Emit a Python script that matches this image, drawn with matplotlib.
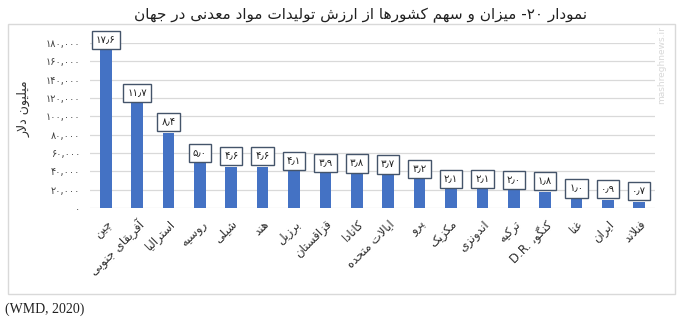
import matplotlib
matplotlib.use('Agg')
import matplotlib.pyplot as plt
from matplotlib.patches import Rectangle

# --- data ---
countries = ['چین', 'آفریقای جنوبی', 'استرالیا', 'روسیه', 'شیلی', 'هند', 'برزیل',
             'قزاقستان', 'کانادا', 'ایالات متحده', 'پرو', 'مکزیک', 'اندونزی',
             'ترکیه', 'کنگو', 'غنا', 'ایران', 'فنلاند']
values = [172000, 114000, 82000, 48800, 45000, 45000, 40000, 38000, 37000,
          36000, 31200, 20500, 20500, 19500, 17500, 9800, 8800, 6800]
shares = ['۱۷٫۶', '۱۱٫۷', '۸٫۴', '۵٫۰', '۴٫۶', '۴٫۶', '۴٫۱', '۳٫۹', '۳٫۸',
          '۳٫۷', '۳٫۲', '۲٫۱', '۲٫۱', '۲٫۰', '۱٫۸', '۱٫۰', '۰٫۹', '۰٫۷']
yticks = [0, 20000, 40000, 60000, 80000, 100000, 120000, 140000, 160000, 180000]
ytick_labels = ['۰', '۲۰,۰۰۰', '۴۰,۰۰۰', '۶۰,۰۰۰', '۸۰,۰۰۰', '۱۰۰,۰۰۰',
                '۱۲۰,۰۰۰', '۱۴۰,۰۰۰', '۱۶۰,۰۰۰', '۱۸۰,۰۰۰']
title = 'نمودار ۲۰- میزان و سهم کشورها از ارزش تولیدات مواد معدنی در جهان'
ylabel = 'میلیون دلار'
source = '(WMD, 2020)'

BLUE = '#4472C4'

# --- minimal Arabic/Persian shaping (matplotlib has no shaping / bidi) ---
# letter: (isolated, final, initial, medial); two entries = joins only to the right
FORMS = {
    'ا': (0xFE8D, 0xFE8E), 'آ': (0xFE81, 0xFE82), 'د': (0xFEA9, 0xFEAA),
    'ذ': (0xFEAB, 0xFEAC), 'ر': (0xFEAD, 0xFEAE), 'ز': (0xFEAF, 0xFEB0),
    'ژ': (0xFB8A, 0xFB8B), 'و': (0xFEED, 0xFEEE),
    'ب': (0xFE8F, 0xFE90, 0xFE91, 0xFE92), 'پ': (0xFB56, 0xFB57, 0xFB58, 0xFB59),
    'ت': (0xFE95, 0xFE96, 0xFE97, 0xFE98), 'ث': (0xFE99, 0xFE9A, 0xFE9B, 0xFE9C),
    'ج': (0xFE9D, 0xFE9E, 0xFE9F, 0xFEA0), 'چ': (0xFB7A, 0xFB7B, 0xFB7C, 0xFB7D),
    'ح': (0xFEA1, 0xFEA2, 0xFEA3, 0xFEA4), 'خ': (0xFEA5, 0xFEA6, 0xFEA7, 0xFEA8),
    'س': (0xFEB1, 0xFEB2, 0xFEB3, 0xFEB4), 'ش': (0xFEB5, 0xFEB6, 0xFEB7, 0xFEB8),
    'ص': (0xFEB9, 0xFEBA, 0xFEBB, 0xFEBC), 'ض': (0xFEBD, 0xFEBE, 0xFEBF, 0xFEC0),
    'ط': (0xFEC1, 0xFEC2, 0xFEC3, 0xFEC4), 'ظ': (0xFEC5, 0xFEC6, 0xFEC7, 0xFEC8),
    'ع': (0xFEC9, 0xFECA, 0xFECB, 0xFECC), 'غ': (0xFECD, 0xFECE, 0xFECF, 0xFED0),
    'ف': (0xFED1, 0xFED2, 0xFED3, 0xFED4), 'ق': (0xFED5, 0xFED6, 0xFED7, 0xFED8),
    'ک': (0xFB8E, 0xFB8F, 0xFB90, 0xFB91), 'گ': (0xFB92, 0xFB93, 0xFB94, 0xFB95),
    'ل': (0xFEDD, 0xFEDE, 0xFEDF, 0xFEE0), 'م': (0xFEE1, 0xFEE2, 0xFEE3, 0xFEE4),
    'ن': (0xFEE5, 0xFEE6, 0xFEE7, 0xFEE8), 'ه': (0xFEE9, 0xFEEA, 0xFEEB, 0xFEEC),
    'ی': (0xFBFC, 0xFBFD, 0xFBFE, 0xFBFF), 'ئ': (0xFE89, 0xFE8A, 0xFE8B, 0xFE8C),
}
LAM_ALEF = {'ا': (0xFEFB, 0xFEFC), 'آ': (0xFEF5, 0xFEF6)}


def shape_word(word):
    word = word.replace('ي', 'ی').replace('ك', 'ک')
    out = []
    i = 0
    prev_joins = False
    while i < len(word):
        c = word[i]
        if c not in FORMS:
            out.append(c)
            prev_joins = False
            i += 1
            continue
        if c == 'ل' and i + 1 < len(word) and word[i + 1] in LAM_ALEF:
            iso, fin = LAM_ALEF[word[i + 1]]
            out.append(chr(fin if prev_joins else iso))
            prev_joins = False
            i += 2
            continue
        f = FORMS[c]
        nxt = word[i + 1] if i + 1 < len(word) else ''
        joins_next = len(f) == 4 and nxt in FORMS
        if prev_joins and joins_next:
            g = f[3]
        elif prev_joins:
            g = f[1]
        elif joins_next:
            g = f[2]
        else:
            g = f[0]
        out.append(chr(g))
        prev_joins = joins_next
        i += 1
    return ''.join(out)


def is_rtl(tok):
    return any(ch in FORMS or ch in 'يك' for ch in tok)


def rtl(text):
    toks = text.split(' ')
    vis = []
    for t in reversed(toks):
        if is_rtl(t):
            vis.append(shape_word(t)[::-1])
        elif t.endswith('-'):
            vis.append('-' + t[:-1])
        else:
            vis.append(t)
    return ' '.join(vis)


labels = [rtl(c) for c in countries]
labels[countries.index('کنگو')] = 'D.R. ،' + rtl('کنگو')

plt.rcParams['font.family'] = ['DejaVu Sans']

fig = plt.figure(figsize=(6.8, 3.23), dpi=100)
# outer chart frame
fig.add_artist(Rectangle((8 / 680, 1 - 294 / 323), 667 / 680, 270 / 323,
                         transform=fig.transFigure, fill=False,
                         ec='#d9d9d9', lw=1.0))

ax = fig.add_axes([90 / 680, 1 - 208 / 323, 565 / 680, 165 / 323])
x = list(range(len(values)))
bars = ax.bar(x, values, width=0.37, color=BLUE, zorder=3)
ax.set_xlim(-0.5, len(values) - 0.5)
ax.set_ylim(0, 180000)
ax.set_yticks(yticks)
ax.set_yticklabels(ytick_labels, fontsize=7, color='#404040')
ax.yaxis.grid(True, color='#d9d9d9', lw=0.9, zorder=0)
for s in ax.spines.values():
    s.set_visible(False)
ax.tick_params(axis='both', length=0)
ax.tick_params(axis='y', pad=7)
ax.set_xticks(x)
ax.set_xticklabels(labels, rotation=45, ha='right', rotation_mode='anchor',
                   fontsize=8.5, color='#303030')
ax.tick_params(axis='x', pad=7)
ax.set_ylabel(rtl(ylabel), fontsize=9, color='#303030')
ax.yaxis.set_label_coords(-0.105, 0.6)

for b, s in zip(bars, shares):
    ax.annotate(s, (b.get_x() + b.get_width() / 2, b.get_height()),
                xytext=(0, 4), textcoords='offset points', ha='center', va='bottom',
                fontsize=7.3, color='#202020', annotation_clip=False, zorder=5,
                bbox=dict(boxstyle='square,pad=0.4', fc='white', ec='#44546A', lw=1.0))

fig.text(0.53, 1 - 15 / 323, rtl(title), ha='center', va='center', fontsize=11,
         color='#202020')
fig.text(5 / 680, 1 - 309 / 323, source, ha='left', va='center', fontsize=10,
         family=['Liberation Serif', 'DejaVu Serif'], color='#202020')
fig.text(662 / 680, 1 - 65 / 323, 'mashreghnews.ir', rotation=90, ha='center',
         va='center', fontsize=6.5, color='#d8d8d8')

fig.savefig('out.png', dpi=100)
